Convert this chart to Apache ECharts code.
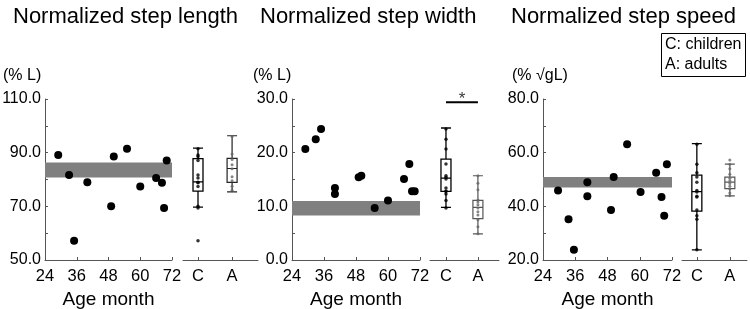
<!DOCTYPE html>
<html>
<head>
<meta charset="utf-8">
<script src="https://cdn.jsdelivr.net/npm/echarts@6/dist/echarts.min.js"></script>
<style>
  html, body { margin: 0; padding: 0; background: #fff; }
  #chart { width: 750px; height: 309px; }
</style>
</head>
<body>
<div id="chart"></div>
<script>
// children: age (month) and value, one point per child
const ageLength = [29, 33.1, 35, 40, 49, 50, 55, 60, 66, 68.2, 69, 70];
const valLength = [89.1, 81.7, 57.2, 79.0, 70.0, 88.6, 91.5, 77.4, 80.6, 78.8, 69.4, 87.1];
const ageWidth = [29, 32.9, 34.9, 40.1, 40.1, 49, 50, 55, 60, 66, 68, 69, 70];
const valWidth = [20.7, 22.5, 24.4, 13.4, 12.3, 15.4, 15.7, 9.7, 11.1, 15.1, 17.9, 12.8, 12.8];
const ageSpeed = [29.6, 33.5, 35.5, 40.5, 40.5, 49.3, 50.3, 55.3, 60.3, 66.1, 68.1, 69.1, 70.1];
const valSpeed = [45.9, 35.2, 23.8, 49.0, 43.8, 38.6, 50.9, 63.1, 45.3, 52.5, 43.5, 36.5, 55.7];

// adults: individual values (small dots on the A box)
const adultLength = [96.0, 89.5, 87.5, 85.5, 84.0, 81.0, 79.5, 77.5, 76.0];
const adultWidth = [15.7, 14.3, 13.1, 11.2, 10.8, 10.3, 9.7, 9.0, 8.4, 7.5, 6.2, 4.9];
const adultSpeed = [57.3, 55.7, 54.0, 52.0, 50.5, 49.5, 48.5, 47.5, 46.5, 45.0, 43.9];

// box stats: [min, Q1, median, Q3, max]
const boxLengthC = [69.7, 75.7, 79.1, 87.8, 91.7];
const boxLengthA = [75.4, 78.9, 84.1, 87.9, 96.3];
const boxWidthC = [9.8, 12.8, 15.25, 18.8, 24.6];
const boxWidthA = [4.85, 7.7, 9.8, 11.1, 15.7];
const boxSpeedC = [23.8, 38.2, 45.5, 51.6, 63.4];
const boxSpeedA = [43.9, 46.6, 49.0, 50.9, 55.7];

// adult reference range (gray band)
const bandLength = [80.7, 86.3];
const bandWidth = [8.3, 11.0];
const bandSpeed = [47.0, 50.9];

const groups = ["C", "A"];
const sigWidth = 29.4; // C vs A significance bar height

const panels = [
  { title: "Normalized step length", unit: "(% L)", ages: ageLength, vals: valLength, adults: adultLength,
    boxC: boxLengthC, boxA: boxLengthA, band: bandLength, yMin: 50, yMax: 110, yStep: 10, aColor: "#222",
    titleLeft: 13, unitLeft: 3, left: 45, width: 127, boxLeft: 183, boxW: 75, bMin: -0.44, bMax: 1.76 },
  { title: "Normalized step width", unit: "(% L)", ages: ageWidth, vals: valWidth, adults: adultWidth,
    boxC: boxWidthC, boxA: boxWidthA, band: bandWidth, yMin: 0, yMax: 30, yStep: 5, aColor: "#555",
    titleLeft: 260, unitLeft: 253, left: 292, width: 128, boxLeft: 430, boxW: 69, bMin: -0.5, bMax: 1.66 },
  { title: "Normalized step speed", unit: "(% √gL)", ages: ageSpeed, vals: valSpeed, adults: adultSpeed,
    boxC: boxSpeedC, boxA: boxSpeedA, band: bandSpeed, yMin: 20, yMax: 80, yStep: 10, aColor: "#555",
    titleLeft: 511, unitLeft: 512, left: 543, width: 129, boxLeft: 682, boxW: 65, bMin: -0.45, bMax: 1.52 }
];

const axisColor = "#555";
const grid = [], xAxis = [], yAxis = [], series = [], title = [];

panels.forEach((p, i) => {
  const gi = i * 2;
  title.push({ text: p.title, left: p.titleLeft, top: 6, padding: 0,
    textStyle: { fontSize: 22, fontWeight: "normal", color: "#000" } });
  title.push({ text: p.unit, left: p.unitLeft, top: 68, padding: 0,
    textStyle: { fontSize: 16, fontWeight: "normal", color: "#000" } });

  grid.push({ left: p.left, top: 99, width: p.width, height: 161, outerBoundsMode: "none" });
  grid.push({ left: p.boxLeft, top: 99, width: p.boxW, height: 161, outerBoundsMode: "none" });

  xAxis.push({
    type: "value", gridIndex: gi, min: 24, max: 72, interval: 12,
    splitLine: { show: false },
    axisLine: { lineStyle: { color: axisColor } },
    axisTick: { inside: true, length: 3, lineStyle: { color: axisColor } },
    axisLabel: { fontSize: 16.5, color: "#000", margin: 8 },
    name: "Age month", nameLocation: "middle", nameGap: 29,
    nameTextStyle: { fontSize: 19, color: "#000" }
  });
  xAxis.push({
    type: "value", gridIndex: gi + 1, min: p.bMin, max: p.bMax,
    splitLine: { show: false },
    axisLine: { lineStyle: { color: axisColor } },
    axisTick: { inside: true, length: 3, customValues: [0, 1], lineStyle: { color: axisColor } },
    axisLabel: { fontSize: 16.5, color: "#000", margin: 8, customValues: [0, 1],
      formatter: v => groups[Math.round(v)] }
  });

  const labelStep = p.yStep * 2;
  yAxis.push({
    type: "value", gridIndex: gi, min: p.yMin, max: p.yMax, interval: p.yStep,
    splitLine: { show: false },
    axisLine: { show: true, lineStyle: { color: axisColor } },
    axisTick: { show: true, inside: true, length: 3, lineStyle: { color: axisColor } },
    axisLabel: { fontSize: 16, color: "#000", margin: 4,
      formatter: v => (Math.round((v - p.yMin) * 100) % Math.round(labelStep * 100) === 0 ? v.toFixed(1) : "") }
  });
  yAxis.push({ type: "value", gridIndex: gi + 1, min: p.yMin, max: p.yMax, show: false });

  // children scatter with adult range band
  series.push({
    type: "scatter", xAxisIndex: gi, yAxisIndex: gi, symbolSize: 8,
    itemStyle: { color: "#000", opacity: 1 },
    data: p.ages.map((a, k) => [a, p.vals[k]]),
    markArea: {
      silent: true, itemStyle: { color: "#808080", opacity: 1 },
      data: [[{ xAxis: 24, yAxis: p.band[0] }, { xAxis: 72, yAxis: p.band[1] }]]
    }
  });

  // box plots
  series.push({
    type: "boxplot", xAxisIndex: gi + 1, yAxisIndex: gi + 1, layout: "horizontal",
    boxWidth: [10, 10],
    itemStyle: { color: "rgba(0,0,0,0)", borderColor: "#000", borderWidth: 1.3 },
    data: [
      { value: [0].concat(p.boxC) },
      { value: [1].concat(p.boxA), itemStyle: { borderColor: p.aColor, borderWidth: 1.2 } }
    ]
  });
  series.push({
    type: "scatter", xAxisIndex: gi + 1, yAxisIndex: gi + 1, symbolSize: 3.5,
    itemStyle: { color: "#000" }, data: p.vals.map(v => [0, v])
  });
  series.push({
    type: "scatter", xAxisIndex: gi + 1, yAxisIndex: gi + 1, symbolSize: 3,
    itemStyle: { color: "#666" }, data: p.adults.map(v => [1, v])
  });
});

// significance bar in the width panel
series.push({
  type: "line", xAxisIndex: 3, yAxisIndex: 3, symbol: "none",
  lineStyle: { color: "#000", width: 2 },
  data: [[0, sigWidth], [1, sigWidth]]
});
series.push({
  type: "scatter", xAxisIndex: 3, yAxisIndex: 3, symbolSize: 1,
  itemStyle: { color: "rgba(0,0,0,0)" },
  label: { show: true, formatter: "*", position: "top", distance: 0, offset: [0, 6], fontSize: 17, color: "#000" },
  data: [[0.5, sigWidth]]
});

// group legend box
title.push({
  text: "C: children\nA: adults", left: 661, top: 33, padding: [2, 4, 2, 4],
  borderColor: "#000", borderWidth: 1,
  textStyle: { fontSize: 16, fontWeight: "normal", color: "#000", lineHeight: 20 }
});

const chart = echarts.init(document.getElementById("chart"), null, { renderer: "canvas" });
chart.setOption({
  animation: false,
  textStyle: { fontFamily: "Liberation Sans, Arial, sans-serif" },
  title, grid, xAxis, yAxis, series
});
</script>
</body>
</html>
